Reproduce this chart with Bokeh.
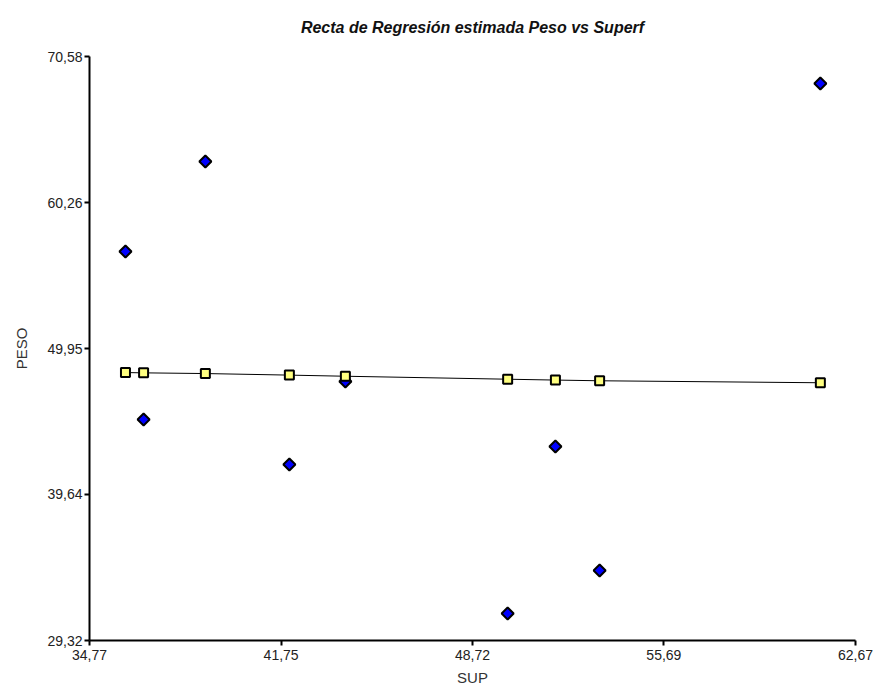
import math
from bokeh.plotting import figure
from bokeh.models import Range1d, FixedTicker, CustomJSTickFormatter, ColumnDataSource
from bokeh.embed import file_html
from bokeh.resources import INLINE

# Observed data (SUP vs PESO)
sup = [36.08, 36.74, 38.99, 42.05, 44.09, 50.00, 51.74, 53.35, 61.39]
peso = [56.80, 44.93, 63.16, 41.75, 47.62, 31.23, 43.03, 34.27, 68.67]
# Fitted values (regression line)
peso_fit = [48.25, 48.23, 48.18, 48.07, 47.99, 47.78, 47.72, 47.67, 47.53]

x_ticks = [34.77, 41.75, 48.72, 55.69, 62.67]
y_ticks = [29.32, 39.64, 49.95, 60.26, 70.58]

p = figure(frame_width=766, frame_height=584, output_backend="svg", toolbar_location=None,
           x_range=Range1d(x_ticks[0], x_ticks[-1]), y_range=Range1d(y_ticks[0], y_ticks[-1]),
           min_border_left=89, min_border_top=56, min_border_right=23, min_border_bottom=51,
           title="Recta de Regresión estimada Peso vs Superf")
p.title.align = "center"
p.title.vertical_align = "top"
p.title.text_font = "Liberation Sans"
p.title.text_font_size = "16px"
p.title.text_font_style = "bold italic"
p.title.text_color = "#111111"
p.title.offset = 0
p.title.standoff = 37

p.grid.visible = False
p.outline_line_color = None
p.background_fill_color = "white"
p.border_fill_color = "white"

fmt = CustomJSTickFormatter(code="return tick.toFixed(2).replace('.', ',');")
for ax, ticks, lbl in ((p.xaxis[0], x_ticks, "SUP"), (p.yaxis[0], y_ticks, "PESO")):
    ax.ticker = FixedTicker(ticks=ticks)
    ax.formatter = fmt
    ax.axis_line_width = 2
    ax.axis_line_color = "black"
    ax.major_tick_line_width = 2
    ax.major_tick_line_color = "black"
    ax.major_tick_out = 5
    ax.major_tick_in = 0
    ax.minor_tick_line_color = None
    ax.major_label_text_font = "Liberation Sans"
    ax.major_label_text_font_size = "14px"
    ax.major_label_text_color = "#222222"
    ax.axis_label = lbl
    ax.axis_label_text_font = "Liberation Sans"
    ax.axis_label_text_font_size = "15px"
    ax.axis_label_text_font_style = "normal"
    ax.axis_label_text_color = "#333333"

p.xaxis.major_label_standoff = 4
p.xaxis.axis_label_standoff = 6
p.yaxis.major_label_standoff = 2
p.yaxis.axis_label_standoff = 14

src = ColumnDataSource(dict(sup=sup, peso=peso, fit=peso_fit))
p.line("sup", "fit", source=src, line_color="black", line_width=1)
p.scatter("sup", "peso", source=src, marker="square", angle=math.pi / 4, size=8.5,
          fill_color="#0000ff", line_color="black", line_width=2)
p.scatter("sup", "fit", source=src, marker="square", size=9, fill_color="#ffff80",
          line_color="black", line_width=2)

open("out.html", "w").write(file_html(p, INLINE))
